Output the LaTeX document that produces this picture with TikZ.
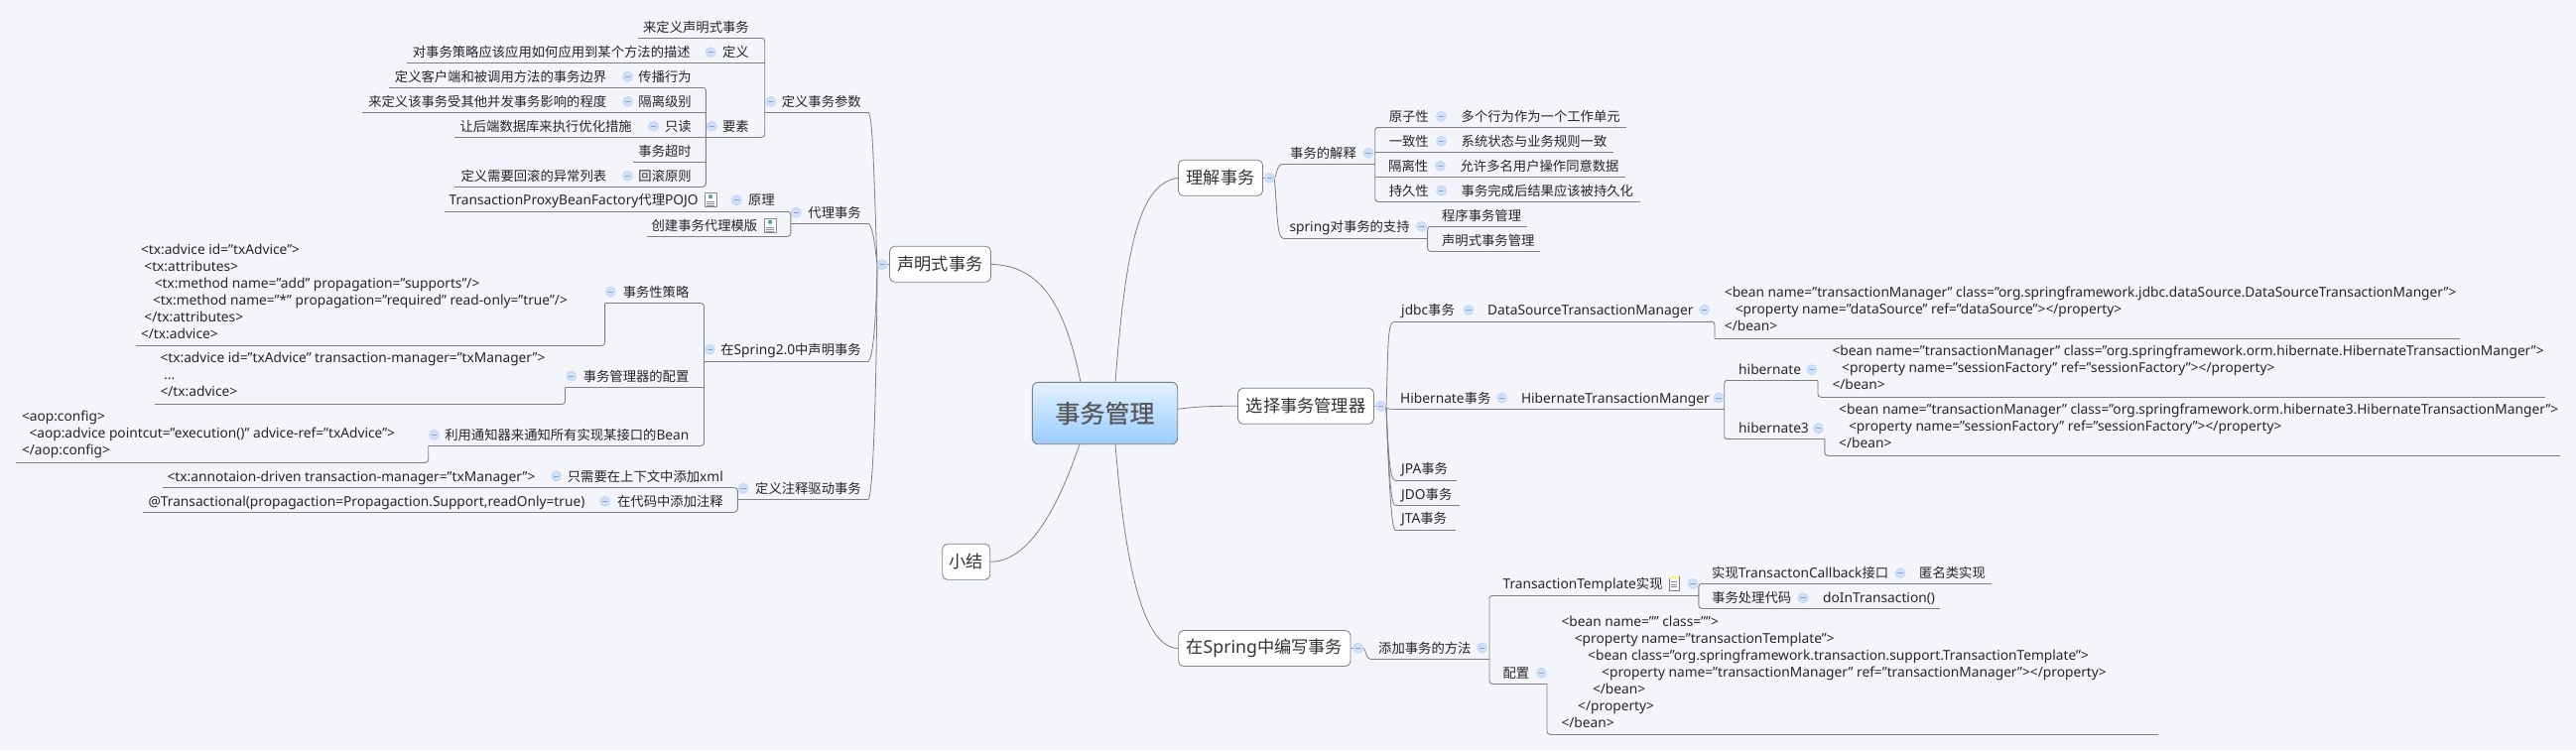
\documentclass[tikz,border=0pt]{standalone}
\usepackage{fontspec}
\setmainfont{Noto Sans}[Scale=1.03]
\newfontfamily\cjk{Noto Sans CJK SC}
\newfontfamily\cjkroot{Noto Sans CJK SC}[FakeBold=0.5]
\usetikzlibrary{calc,positioning}
\definecolor{pagebg}{HTML}{F3F5FB}
\definecolor{lnkgray}{HTML}{808080}
\definecolor{foldfill}{HTML}{CFE0FB}
\definecolor{foldedge}{HTML}{BBD2F6}
\definecolor{foldbar}{HTML}{8FA3C4}
\definecolor{roottop}{HTML}{E3F1FF}
\definecolor{rootbot}{HTML}{99CCFF}
\tikzset{
    lnk/.style={draw=lnkgray,line width=0.9pt},
    bus/.style={lnk,rounded corners=3pt},
    limb/.style={draw=lnkgray,line width=0.8pt},
    txt/.style={inner sep=0pt,text height=10pt,text depth=0pt,text=black!85,font=\cjk\fontsize{13.33}{16}\selectfont},
    lat/.style={txt,font=\rmfamily\fontsize{13.33}{16}\selectfont},
    codeblk/.style={inner sep=0pt,anchor=north west,align=left,text=black!85,font=\rmfamily\fontsize{13.33}{17}\selectfont},
    maintopic/.style={draw=lnkgray,line width=0.8pt,fill=white,rounded corners=5pt,minimum height=36pt,inner sep=0pt,text=black!80,font=\cjk\fontsize{17.2}{20}\selectfont},
    fold/.style={circle,fill=foldfill,draw=foldedge,line width=0.6pt,minimum size=10pt,inner sep=0pt,
        path picture={\draw[foldbar,line width=0.7pt] (-2.6pt,0) -- (2.6pt,0);}},
    docicon/.pic={
        \draw[black!45,fill=white,line width=0.5pt] (-6,-7) rectangle (6,7);
        \fill[teal!70] (0,-3.5) circle (2.2);
        \foreach \y in {1.5,3.5,5.5}
        \draw[black!45,line width=0.5pt] (-4,\y) -- (4,\y);
    },
    padicon/.pic={
        \draw[black!50,fill=blue!4,line width=0.5pt] (-5,-7) rectangle (5,7);
        \fill[yellow!60] (-5,-7) rectangle (5,-5);
        \foreach \y in {-2,0.5,3}
        \draw[black!45,line width=0.5pt] (-3,\y) -- (3,\y);
    }
}
% underline of a topic: name, left x, right x, y
\newcommand{\topicline}[4]{
    \coordinate (#1-l) at (#2,#4);
    \coordinate (#1-r) at (#3,#4);
    \draw[lnk] (#1-l) -- (#1-r);
}
\newcommand{\ltn}[1]{{\rmfamily #1}}
\begin{document}
\begin{tikzpicture}[x=1pt,y=-1pt]
    \fill[pagebg] (0,0) rectangle (2596,756);
    \useasboundingbox (0,0) rectangle (2596,756);

    % central and main topics
    \node[draw=lnkgray,line width=0.9pt,rounded corners=6pt,top color=roottop,bottom color=rootbot,minimum width=146.4pt,minimum height=62.4pt,inner sep=0pt,text=black!65,font=\cjkroot\fontsize{25}{30}\selectfont] (root) at (1113.5,416.5) {事务管理};
    \node[maintopic,minimum width=102pt] (shengming) at (947.5,266.3) {声明式事务};
    \node[maintopic,minimum width=85pt] (lijie) at (1230,179.3) {理解事务};
    \node[maintopic,minimum width=137pt] (xuanze) at (1316,409.3) {选择事务管理器};
    \node[maintopic,minimum width=48pt] (xiaojie) at (973.8,566.3) {小结};
    \node[maintopic,minimum width=173.3pt] (biancheng) at (1274.3,653.5) {在\ltn{Spring}中编写事务};

    \coordinate (rootnw) at (1089,385.3);
    \coordinate (rootne) at (1124,385.3);
    \coordinate (rootsw) at (1088,447.7);
    \coordinate (rootse) at (1124,447.7);
    \coordinate (rooter) at (1186.7,412.3);
    \draw[limb] (shengming.east) .. controls (1045,268) and (1072,300) .. (rootnw);
    \draw[limb] (lijie.west) .. controls (1150,185) and (1135,240) .. (rootne);
    \draw[limb] (rooter) .. controls (1210,409.3) and (1225,409.3) .. (xuanze.west);
    \draw[limb] (xiaojie.east) .. controls (1030,566) and (1060,530) .. (rootsw);
    \draw[limb] (rootse) .. controls (1133,560) and (1150,653) .. (biancheng.west);

    % left: first level
    \coordinate (zuo) at (884,267);
    \draw[limb] (zuo) -- (shengming.west);
    \node[txt,anchor=east] (canshu) at (868,102.3) {定义事务参数};
    \topicline{canshu}{770.7}{875}{113.3}
    \node[txt,anchor=east] (daili) at (868,214.3) {代理事务};
    \topicline{daili}{796.8}{875}{225.3}
    \node[txt,anchor=east] (shengm20) at (868,352.3) {在\ltn{Spring2.0}中声明事务};
    \topicline{shengm20}{709.5}{875}{364.3}
    \node[txt,anchor=east] (zhushi) at (868,492.3) {定义注释驱动事务};
    \topicline{zhushi}{743.4}{875}{503.3}
    \draw[limb] (canshu-r) .. controls (880,116) and (881,190) .. (zuo);
    \draw[limb] (daili-r) .. controls (880,228) and (882,250) .. (zuo);
    \draw[limb] (shengm20-r) .. controls (880,361) and (883,320) .. (zuo);
    \draw[limb] (zhushi-r) .. controls (881,500) and (884,340) .. (zuo);

    % left: define parameters
    \node[txt,anchor=east] (laiding) at (755,27) {来定义声明式事务};
    \topicline{laiding}{643}{767}{38.3}
    \node[txt,anchor=east] (dingyi) at (755,52.7) {定义};
    \topicline{dingyi}{410}{770.7}{63.3}
    \node[txt,anchor=east] (dingyimiao) at (696,52.7) {对事务策略应该应用如何应用到某个方法的描述};
    \node[txt,anchor=east] (yaosu) at (755,127.3) {要素};
    \topicline{yaosu}{711.3}{767}{138.3}
    \draw[bus] (laiding-r) -| (canshu-l) |- (yaosu-r);
    \node[txt,anchor=east] (chuanbo) at (697,77.3) {传播行为};
    \topicline{chuanbo}{392}{708}{88.3}
    \node[txt,anchor=east] (chuanbomiao) at (611.4,77.3) {定义客户端和被调用方法的事务边界};
    \node[txt,anchor=east] (geli) at (697,102.3) {隔离级别};
    \topicline{geli}{365}{711.3}{113.3}
    \node[txt,anchor=east] (gelimiao) at (611.4,102.3) {来定义该事务受其他并发事务影响的程度};
    \node[txt,anchor=east] (zhidu) at (697,127.3) {只读};
    \topicline{zhidu}{458}{711.3}{138.3}
    \node[txt,anchor=east] (zhidumiao) at (637,127.3) {让后端数据库来执行优化措施};
    \node[txt,anchor=east] (chaoshi) at (697,152.3) {事务超时};
    \topicline{chaoshi}{638.4}{711.3}{163.3}
    \node[txt,anchor=east] (huigun) at (697,177.3) {回滚原则};
    \topicline{huigun}{458}{708}{188.3}
    \node[txt,anchor=east] (huigunmiao) at (611.4,177.3) {定义需要回滚的异常列表};
    \draw[bus] (chuanbo-r) -| (yaosu-l) |- (huigun-r);

    % left: proxy
    \node[txt,anchor=east] (yuanli) at (781,201.7) {原理};
    \topicline{yuanli}{447.8}{793}{213.3}
    \node[txt,anchor=east] (yuanlimiao) at (703.8,201.7) {\ltn{TransactionProxyBeanFactory}代理\ltn{POJO}};
    \node[txt,anchor=east] (moban) at (763.5,227.3) {创建事务代理模版};
    \topicline{moban}{651.5}{793}{238.3}
    \draw[bus] (yuanli-r) -| (daili-l) |- (moban-r);
    \pic at (716,201.7) {docicon};
    \pic at (776,227.3) {docicon};

    % left: spring 2.0
    \node[txt,anchor=east] (celve) at (694.6,294) {事务性策略};
    \topicline{celve}{609.6}{706}{305.7}
    \node[codeblk] (celvecode) at (141.8,246) {<tx:advice id="txAdvice">\\
        \hspace*{3.4pt}<tx:attributes>\\
        \hspace*{13.8pt}<tx:method name="add" propagation="supports"/>\\
        \hspace*{12pt}<tx:method name="*" propagation="required" read-only="true"/>\\
        \hspace*{3.4pt}</tx:attributes>\\
        </tx:advice>};
    \topicline{celvecode}{136.6}{606}{348.3}
    \draw[bus] (celvecode-r) -| (celve-l);
    \node[txt,anchor=east] (peizhi) at (694.6,379.3) {事务管理器的配置};
    \topicline{peizhi}{569.5}{709.5}{390.3}
    \node[codeblk] (peizhicode) at (161.3,354.5) {<tx:advice id="txAdvice" transaction-manager="txManager">\\
        \hspace*{3.7pt}...\\
        </tx:advice>};
    \topicline{peizhicode}{156}{566}{407.3}
    \draw[bus] (peizhicode-r) -| (peizhi-l);
    \node[txt,anchor=east] (tongzhi) at (694.6,438.3) {利用通知器来通知所有实现某接口的\ltn{Bean}};
    \topicline{tongzhi}{431.7}{706}{449.3}
    \node[codeblk] (tongzhicode) at (21.8,413.5) {<aop:config>\\
        \hspace*{7.5pt}<aop:advice pointcut="execution()" advice-ref="txAdvice">\\
        </aop:config>};
    \topicline{tongzhicode}{16}{428}{466.3}
    \draw[bus] (tongzhicode-r) -| (tongzhi-l);
    \draw[bus] (celve-r) -| (shengm20-l) |- (tongzhi-r);

    % left: annotation
    \node[txt,anchor=east] (xml) at (729,480) {只需要在上下文中添加\ltn{xml}};
    \topicline{xml}{163.6}{740}{491.7}
    \node[lat,anchor=east] (xmlcode) at (539.6,480) {<tx:annotaion-driven transaction-manager="txManager">};
    \node[txt,anchor=east] (daima) at (729,505.3) {在代码中添加注释};
    \topicline{daima}{143.5}{740}{516}
    \node[lat,anchor=east] (daimacode) at (589.6,505.3) {@Transactional(propagaction=Propagaction.Support,readOnly=true)};
    \draw[bus] (xml-r) -| (zhushi-l) |- (daima-r);

    % right: understanding
    \coordinate (liroot) at (1284,179.3);
    \draw[limb] (lijie.east) -- (liroot);
    \node[txt,anchor=west] (jieshi) at (1300,154.3) {事务的解释};
    \topicline{jieshi}{1293}{1385.7}{165.3}
    \node[txt,anchor=west] (zhichi) at (1299.3,228.3) {\ltn{spring}对事务的支持};
    \topicline{zhichi}{1293}{1438.6}{240.3}
    \draw[limb] (liroot) .. controls (1287,178) and (1286,165.3) .. (jieshi-l);
    \draw[limb] (liroot) .. controls (1287,200) and (1286,240.3) .. (zhichi-l);
    \node[txt,anchor=west] (yuanzi) at (1399.6,117.3) {原子性};
    \topicline{yuanzi}{1389}{1638.6}{128.3}
    \node[txt,anchor=west] (yuanzimiao) at (1472.5,117.3) {多个行为作为一个工作单元};
    \node[txt,anchor=west] (yizhi) at (1399.6,142.3) {一致性};
    \topicline{yizhi}{1385.7}{1625.7}{153.3}
    \node[txt,anchor=west] (yizhimiao) at (1472.5,142.3) {系统状态与业务规则一致};
    \node[txt,anchor=west] (gelixing) at (1399,167.3) {隔离性};
    \topicline{gelixing}{1385.7}{1637.5}{178.3}
    \node[txt,anchor=west] (gelixingmiao) at (1471.4,167.3) {允许多名用户操作同意数据};
    \node[txt,anchor=west] (chijiu) at (1399.6,192.3) {持久性};
    \topicline{chijiu}{1389}{1652.5}{203.3}
    \node[txt,anchor=west] (chijiumiao) at (1472.5,192.3) {事务完成后结果应该被持久化};
    \draw[bus] (yuanzi-l) -| (jieshi-r) |- (chijiu-l);
    \node[txt,anchor=west] (chengxu) at (1452.9,217) {程序事务管理};
    \topicline{chengxu}{1442}{1538.6}{228.3}
    \node[txt,anchor=west] (shengmingshi) at (1452.9,242) {声明式事务管理};
    \topicline{shengmingshi}{1442}{1551.8}{253.3}
    \draw[bus] (chengxu-l) -| (zhichi-r) |- (shengmingshi-l);

    % right: choosing a manager
    \coordinate (xuroot) at (1397,411);
    \draw[limb] (xuanze.east) -- (1391,409.3) -- (xuroot);
    \node[txt,anchor=west] (jdbc) at (1412,312.3) {\ltn{jdbc}事务};
    \topicline{jdbc}{1405}{1720}{324.3}
    \node[lat,anchor=west] (dsmgr) at (1499,312.3) {DataSourceTransactionManager};
    \node[codeblk] (jdbccode) at (1737.7,289) {<bean name="transactionManager" class="org.springframework.jdbc.dataSource.DataSourceTransactionManger">\\
        \hspace*{10.9pt}<property name="dataSource" ref="dataSource"></property>\\
        </bean>};
    \topicline{jdbccode}{1728}{2479}{341}
    \draw[bus] (jdbc-r) -| (jdbccode-l);
    \node[txt,anchor=west] (hib) at (1411,401) {\ltn{Hibernate}事务};
    \topicline{hib}{1404}{1737.7}{412.3}
    \node[lat,anchor=west] (hibmgr) at (1532.8,401) {HibernateTransactionManger};
    \node[lat,anchor=west] (hibtwo) at (1752,372.7) {hibernate};
    \topicline{hibtwo}{1741}{1832}{383.3}
    \node[codeblk] (hibtwocode) at (1846.3,348) {<bean name="transactionManager" class="org.springframework.orm.hibernate.HibernateTransactionManger">\\
        \hspace*{9.7pt}<property name="sessionFactory" ref="sessionFactory"></property>\\
        </bean>};
    \topicline{hibtwocode}{1836}{2564.6}{400.3}
    \draw[bus] (hibtwocode-l) -| (hibtwo-r);
    \node[lat,anchor=west] (hibthree) at (1752,431.7) {hibernate3};
    \topicline{hibthree}{1741}{1838.9}{442.7}
    \node[codeblk] (hibthreecode) at (1853,407) {<bean name="transactionManager" class="org.springframework.orm.hibernate3.HibernateTransactionManger">\\
        \hspace*{9.9pt}<property name="sessionFactory" ref="sessionFactory"></property>\\
        </bean>};
    \topicline{hibthreecode}{1843}{2580}{459.3}
    \draw[bus] (hibthreecode-l) -| (hibthree-r);
    \draw[bus] (hibtwo-l) -| (hib-r) |- (hibthree-l);
    \node[txt,anchor=west] (jpa) at (1412,472.7) {\ltn{JPA}事务};
    \topicline{jpa}{1406}{1467.7}{484.3}
    \node[txt,anchor=west] (jdo) at (1412,498) {\ltn{JDO}事务};
    \topicline{jdo}{1406}{1470.7}{509.3}
    \node[txt,anchor=west] (jta) at (1412,522.7) {\ltn{JTA}事务};
    \topicline{jta}{1406}{1466.7}{534.3}
    \draw[limb] (xuroot) .. controls (1399,350) and (1398,324.3) .. (jdbc-l);
    \draw[limb] (xuroot) .. controls (1399,412.3) and (1400,412.3) .. (hib-l);
    \draw[limb] (xuroot) .. controls (1399,450) and (1400,484.3) .. (jpa-l);
    \draw[limb] (xuroot) .. controls (1399,460) and (1401,509.3) .. (jdo-l);
    \draw[limb] (xuroot) .. controls (1399,470) and (1402,534.3) .. (jta-l);

    % right: writing in spring
    \coordinate (bianroot) at (1374,653.3);
    \draw[limb] (biancheng.east) -- (bianroot);
    \node[txt,anchor=west] (fangfa) at (1389,653) {添加事务的方法};
    \topicline{fangfa}{1381}{1501}{664.3}
    \draw[limb] (bianroot) .. controls (1377,655) and (1376,664.3) .. (fangfa-l);
    \node[txt,anchor=west] (template) at (1514.4,588.3) {\ltn{TransactionTemplate}实现};
    \topicline{template}{1505}{1711.8}{600.3}
    \node[txt,anchor=west] (peizhiw) at (1514.4,678.3) {配置};
    \topicline{peizhiw}{1505}{1559}{689.3}
    \draw[bus] (template-l) -| (fangfa-r) |- (peizhiw-l);
    \pic at (1687,588.3) {padicon};
    \node[txt,anchor=west] (callback) at (1725,577.7) {实现\ltn{TransactonCallback}接口};
    \topicline{callback}{1715}{2007}{588.3}
    \node[txt,anchor=west] (niming) at (1934,577.7) {匿名类实现};
    \node[txt,anchor=west] (chuli) at (1725,602.7) {事务处理代码};
    \topicline{chuli}{1715}{1954.7}{613.3}
    \node[lat,anchor=west] (doin) at (1837,602.7) {doInTransaction()};
    \draw[bus] (callback-l) -| (template-r) |- (chuli-l);
    \node[codeblk] (peizhicodew) at (1573.3,621) {<bean name="" class="">\\
        \hspace*{13.3pt}<property name="transactionTemplate">\\
        \hspace*{26.7pt}<bean class="org.springframework.transaction.support.TransactionTemplate">\\
        \hspace*{40.7pt}<property name="transactionManager" ref="transactionManager"></property>\\
        \hspace*{31.5pt}</bean>\\
        \hspace*{16.7pt}</property>\\
        </bean>};
    \topicline{peizhicodew}{1564}{2175}{740.3}
    \draw[bus] (peizhicodew-l) -| (peizhiw-r);

    % fold marks
    \foreach \x/\y [count=\i] in {889/266.7,1279.3/179.3,1391.5/409.3,1368.5/653.3,
        776.7/102.3,802.3/214.3,715.3/352.3,749/492.3,716.3/52.7,717.3/127.3,
        632.6/77.3,632.6/102.3,658.5/127.3,632.6/177.3,742.3/201.7,
        615.4/294,575.8/379.3,437.4/438.3,560.8/480,609.6/505.3,
        1379/154.3,1432.5/228.3,1452.5/117.3,1452.5/142.3,1451.4/167.3,1452.5/192.3,
        1480/312.3,1717.6/312.3,1513.6/401,1732/401,1825.7/372.7,1832.6/431.7,
        1493.7/653,1706/588.3,1553.4/678.3,1915/577.7,1817/602.7}
    \node[fold] (fold\i) at (\x,\y) {};
\end{tikzpicture}
\end{document}
